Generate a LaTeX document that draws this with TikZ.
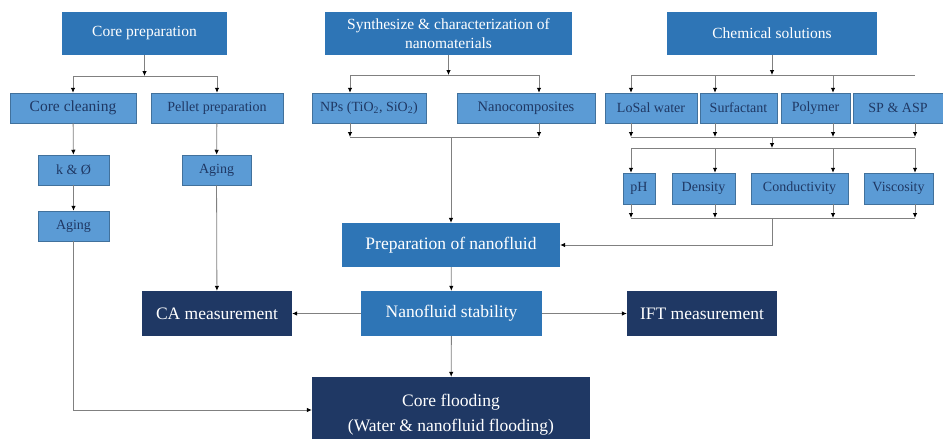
\documentclass[tikz,border=0pt]{standalone}
\usepackage{fontspec}
\setmainfont{Liberation Serif}
\usetikzlibrary{arrows.meta,positioning,calc}
\definecolor{midblue}{HTML}{2E75B6}
\definecolor{lightblue}{HTML}{5B9BD5}
\definecolor{edgeblue}{HTML}{41719C}
\definecolor{navy}{HTML}{1F3864}
\definecolor{wire}{HTML}{808080}
\tikzset{
  wh/.style 2 args={minimum width=#1pt,minimum height=#2pt},
  topbox/.style={fill=midblue,text=white,inner sep=0pt,align=center,font=\fontsize{15.5}{19}\selectfont},
  subbox/.style={fill=lightblue,draw=edgeblue,line width=0.5pt,text=navy,inner sep=0pt,align=center,font=\fontsize{14}{16}\selectfont},
  darkbox/.style={fill=navy,text=white,inner sep=0pt,align=center,font=\fontsize{17.5}{25}\selectfont},
  bigfont/.style={font=\fontsize{17.5}{21}\selectfont},
  link/.style={draw=wire,line width=0.8pt},
  arrow/.style={link,-{Latex[length=5pt,width=4.5pt,color=black]}},
}
\begin{document}
\begin{tikzpicture}[x=1pt,y=-1pt]
  \clip (0,0) rectangle (943,439);
  % top row
  \node[topbox,wh={165}{43}] (cp) at (144.5,33.5) {Core preparation};
  \node[topbox,wh={247}{43}] (sy) at (448.5,33.5) {Synthesize \& characterization of\\nanomaterials};
  \node[topbox,wh={210}{43}] (cs) at (772,33.5) {Chemical solutions};
  % second row
  \node[subbox,wh={126}{30},font=\fontsize{15.5}{17}\selectfont] (cc) at (73,108) {Core cleaning};
  \node[subbox,wh={132}{30}] (pp) at (217,108) {Pellet preparation};
  \node[subbox,wh={114}{30}] (np) at (369,108) {NPs (TiO\textsubscript{2}, SiO\textsubscript{2})};
  \node[subbox,wh={138}{30},font=\fontsize{14.5}{16}\selectfont] (nc) at (526,108) {Nanocomposites};
  \node[subbox,wh={92}{30}] (lw) at (651,108) {LoSal water};
  \node[subbox,wh={77}{30}] (sf) at (738.5,108) {Surfactant};
  \node[subbox,wh={69}{30}] (pl) at (815.5,108) {Polymer};
  \node[subbox,wh={90}{30}] (sa) at (898,108) {SP \& ASP};
  % core branch
  \node[subbox,wh={71}{30}] (kp) at (73.5,170) {k \& Ø};
  \node[subbox,wh={71}{30}] (ag1) at (73.5,226) {Aging};
  \node[subbox,wh={69}{30}] (ag2) at (216.5,170) {Aging};
  % properties
  \node[subbox,wh={32}{31}] (ph) at (639,188.5) {pH};
  \node[subbox,wh={63}{31}] (dn) at (703.5,188.5) {Density};
  \node[subbox,wh={97}{31}] (cd) at (799.5,188.5) {Conductivity};
  \node[subbox,wh={69}{31}] (vs) at (898.5,188.5) {Viscosity};
  % nanofluid and tests
  \node[topbox,bigfont,wh={218}{44}] (pn) at (451,245) {Preparation of nanofluid};
  \node[topbox,bigfont,wh={181}{45}] (ns) at (451.5,313.5) {Nanofluid stability};
  \node[darkbox,wh={150}{45}] (ca) at (217,313.5) {CA measurement};
  \node[darkbox,wh={150}{45}] (ift) at (702,313.5) {IFT measurement};
  \node[darkbox,wh={278}{76}] (cf) at (451,415) {Core flooding\\(Water \& nanofluid flooding)};

  % junctions
  \coordinate (j1) at (144.5,76);
  \coordinate (j2) at (448.5,75);
  \coordinate (j3) at (451,137);
  \coordinate (j4) at (772,75);
  \coordinate (j5) at (772,137);
  \coordinate (j6) at (772,148);
  \coordinate (j7) at (772,218);

  % core preparation
  \draw[arrow] (cp.south) -- (j1);
  \draw[arrow] (j1) -| (cc.north);
  \draw[arrow] (j1) -| (pp.north);
  \draw[arrow] (cc) -- (kp);
  \draw[arrow] (kp) -- (ag1);
  \draw[arrow] (pp) -- (ag2);
  \draw[arrow] (ag2) -- (ca);
  \draw[arrow] (ag1) |- ([yshift=5]cf.west);

  % nanomaterials
  \draw[arrow] (sy.south) -- (j2);
  \draw[arrow] (j2) -| ([xshift=-19]np.north);
  \draw[arrow] (j2) -| ([xshift=13]nc.north);
  \draw[arrow] ([xshift=-19]np.south) -- ([xshift=-19]np.south |- j3);
  \draw[arrow] ([xshift=13]nc.south) -- ([xshift=13]nc.south |- j3);
  \draw[link] ([xshift=-19]np.south |- j3) -- ([xshift=13]nc.south |- j3);
  \draw[arrow] (j3) -- (pn.north);

  % chemical solutions
  \draw[arrow] (cs.south) -- (j4);
  \draw[link] ([xshift=-20]lw.north |- j4) -- ([xshift=17]sa.north |- j4);
  \foreach \n/\d in {lw/-20,sf/-23.5,pl/17.5}
    \draw[arrow] ([xshift=\d]\n.north |- j4) -- ([xshift=\d]\n.north);
  \foreach \n/\d in {lw/-20,sf/-23.5,pl/17.5,sa/17}
    \draw[arrow] ([xshift=\d]\n.south) -- ([xshift=\d]\n.south |- j5);
  \draw[link] ([xshift=-20]lw.south |- j5) -- ([xshift=17]sa.south |- j5);
  \draw[arrow] (j5) -- (j6);
  \draw[link] ([xshift=-8]ph.north |- j6) -- ([xshift=16.5]vs.north |- j6);
  \foreach \n/\d in {ph/-8,dn/11.5,cd/33.5,vs/16.5}{
    \draw[arrow] ([xshift=\d]\n.north |- j6) -- ([xshift=\d]\n.north);
    \draw[arrow] ([xshift=\d]\n.south) -- ([xshift=\d]\n.south |- j7);
  }
  \draw[link] ([xshift=-8]ph.south |- j7) -- ([xshift=16.5]vs.south |- j7);
  \draw[arrow] (j7) |- (pn.east);

  % nanofluid
  \draw[arrow] (pn) -- (ns);
  \draw[arrow] (ns) -- (ca);
  \draw[arrow] (ns) -- (ift);
  \draw[arrow] (ns) -- (cf);
\end{tikzpicture}
\end{document}
